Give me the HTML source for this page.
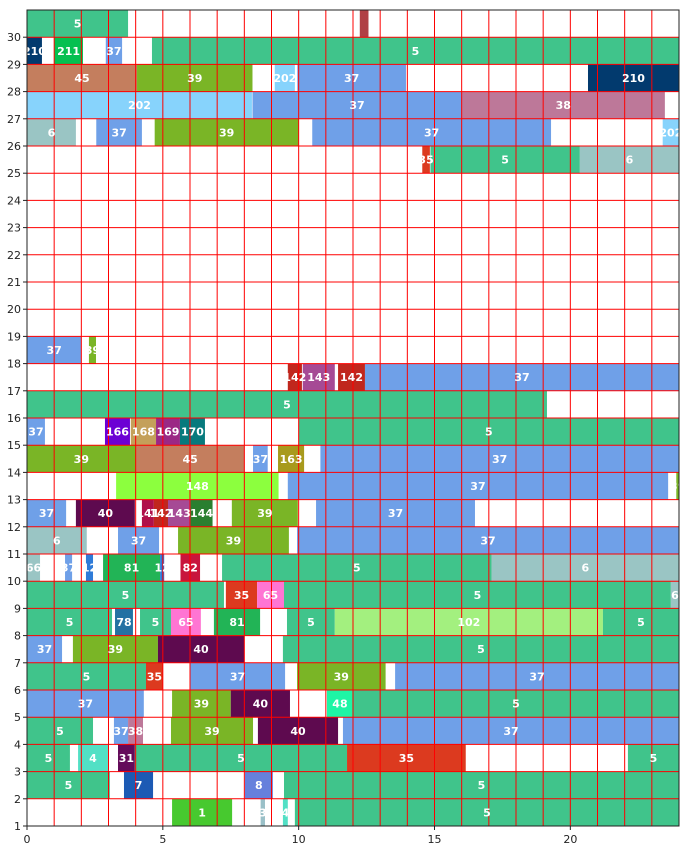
<!DOCTYPE html>
<html><head><meta charset="utf-8"><style>
body{margin:0;background:#fff}
svg text{font-family:"DejaVu Sans","Liberation Sans",sans-serif}
</style></head><body>
<svg id="chart" width="692" height="850" xmlns="http://www.w3.org/2000/svg"></svg>
<script>
const rows = [
30,30,
29,29,29,29,
28,28,28,28,28,
27,27,27,
26,26,26,26,26,
25,25,25,
18,18,
17,17,17,17,
16,
15,15,15,15,15,15,
14,14,14,14,14,
13,13,13,
12,12,12,12,12,12,12,12,
11,11,11,11,
10,10,10,10,10,10,10,10,
9,9,9,9,9,
8,8,8,8,8,8,8,8,
7,7,7,7,
6,6,6,6,6,
5,5,5,5,5,
4,4,4,4,4,4,
3,3,3,3,3,3,
2,2,2,2,
1,1,1,1];
const starts = [
0,12.25,
0,1.0,2.9,4.6,
0,4.05,9.12,9.95,20.65,
0,8.3,16.0,
0,2.55,4.7,10.5,23.4,
14.55,14.85,20.35,
0,2.28,
9.6,10.15,11.45,12.44,
0,
0,2.87,3.82,4.75,5.63,10.0,
0,4.0,8.32,9.24,10.8,
3.28,9.6,23.9,
0,1.8,4.23,4.67,5.19,6.02,7.54,10.64,
0,3.35,5.56,9.94,
0,1.4,2.17,2.8,4.9,5.65,7.18,17.1,
0,7.32,8.47,9.46,23.7,
0,3.24,4.16,5.3,6.88,9.57,11.33,21.2,
0,1.69,4.82,9.42,
0,4.38,6.0,9.94,13.55,
0,5.34,7.5,11.04,12.0,
0,3.2,3.72,5.3,8.5,11.63,
0,1.88,3.35,3.97,11.78,22.12,
0,3.57,8.02,9.46,
5.34,8.6,9.42,9.86];
const ends = [
3.72,12.57,
0.55,2.06,3.5,24,
4.05,8.3,9.86,13.95,24,
8.28,16.0,23.48,
1.8,4.23,10.0,19.29,24,
14.83,20.35,24,
2.0,2.54,
10.12,11.33,12.44,24,
19.14,
0.66,3.79,4.75,5.63,6.55,24,
4.0,8.01,8.86,10.2,24,
9.26,23.6,24,
1.44,3.97,4.67,5.19,6.02,6.83,9.97,16.49,
2.2,4.86,9.64,24,
0.48,1.66,2.43,4.9,5.05,6.37,17.1,24,
7.25,8.47,9.46,23.7,24,
3.13,3.9,5.3,6.4,8.58,11.33,21.2,24,
1.29,4.82,7.99,24,
4.38,5.0,9.5,13.2,24,
4.3,7.5,9.68,12.0,24,
2.43,3.72,4.27,8.32,11.45,24,
1.58,2.98,3.97,11.78,16.15,24,
3.05,4.64,9.05,24,
7.55,8.76,9.6,24];
const labels = [
"5","",
"210","211","37","5",
"45","39","202","37","210",
"202","37","38",
"6","37","39","37","202",
"35","5","6",
"37","39",
"142","143","142","37",
"5",
"37","166","168","169","170","5",
"39","45","37","163","37",
"148","37","39",
"37","40","141","142","143","144","39","37",
"6","37","39","37",
"66","37","12","81","12","82","5","6",
"5","35","65","5","6",
"5","78","5","65","81","5","102","5",
"37","39","40","5",
"5","35","37","39","37",
"37","39","40","48","5",
"5","37","38","39","40","37",
"5","4","31","5","35","5",
"5","7","8","5",
"1","3","4","5"];
const palette = {"5":"#40c48b","37":"#6fa0e8","202":"#87d3fc","39":"#7ab526","45":"#c47e5e","6":"#9ac5c4","210":"#023a6e","211":"#05c050","38":"#bd7899","35":"#dc3a1f","142":"#c0271d","143":"#a64a95","166":"#6c00d4","168":"#c4a05a","169":"#9b2885","170":"#077a7d","163":"#a89a1d","148":"#8cff3e","40":"#5e0a4f","141":"#b0104a","144":"#2a7f30","66":"#9ac5c4","12":"#2f7bd8","81":"#22b456","82":"#c8143c","65":"#ff75d3","78":"#2471a3","102":"#a3f07f","48":"#1ef5a5","4":"#52e0c5","31":"#640a5a","7":"#1c5ab4","8":"#6680dc","1":"#47c92f","3":"#9ac0c8","":"#b04045"};
const xTicks = [0,5,10,15,20];
const yTicks = [1,2,3,4,5,6,7,8,9,10,11,12,13,14,15,16,17,18,19,20,21,22,23,24,25,26,27,28,29,30];

const L=27,R=679,T=10,B=826,XMAX=24,YMIN=1,YMAX=31;
const xs=v=>L+v*(R-L)/XMAX;
const ys=v=>B-(v-YMIN)*(B-T)/(YMAX-YMIN);
const NS="http://www.w3.org/2000/svg";
const svg=document.getElementById('chart');
function mk(tag,attrs,parent){const e=document.createElementNS(NS,tag);for(const k in attrs)e.setAttribute(k,attrs[k]);(parent||svg).appendChild(e);return e;}

const gBars=mk('g',{});


for(let i=0;i<rows.length;i++){
  const r=mk('rect',{x:xs(starts[i]),y:ys(rows[i]+1),width:Math.max(0,xs(ends[i])-xs(starts[i])),height:ys(rows[i])-ys(rows[i]+1),fill:palette[labels[i]]||"#888"},gBars);
  
  
}
const gGrid=mk('g',{stroke:'#ff0000','stroke-width':1});


for(let v=1;v<XMAX;v++){const l=mk('line',{x1:xs(v),x2:xs(v),y1:T,y2:B},gGrid);}
for(let v=YMIN+1;v<YMAX;v++){const l=mk('line',{x1:L,x2:R,y1:ys(v),y2:ys(v)},gGrid);}
const gLab=mk('g',{fill:'#fff','font-size':11,'font-weight':'bold','text-anchor':'middle'});


for(let i=0;i<rows.length;i++){
  if(!labels[i])continue;
  const t=mk('text',{x:(xs(starts[i])+xs(ends[i]))/2,y:(ys(rows[i])+ys(rows[i]+1))/2+4},gLab);
  t.textContent=labels[i];
  
  
}
const frame=mk('rect',{x:L,y:T,width:R-L,height:B-T,fill:'none',stroke:'#222','stroke-width':1});


const gAx=mk('g',{'font-size':11,fill:'#222'});


xTicks.forEach(v=>{
  const l=mk('line',{x1:xs(v),x2:xs(v),y1:B,y2:B+4,stroke:'#222'},gAx);
  
  const t=mk('text',{x:xs(v),y:B+17,'text-anchor':'middle'},gAx);t.textContent=v;
  
});
yTicks.forEach(v=>{
  const l=mk('line',{x1:L-4,x2:L,y1:ys(v),y2:ys(v),stroke:'#222'},gAx);
  
  const t=mk('text',{x:L-6,y:ys(v)+4,'text-anchor':'end'},gAx);t.textContent=v;
  
});
</script>
</body></html>
